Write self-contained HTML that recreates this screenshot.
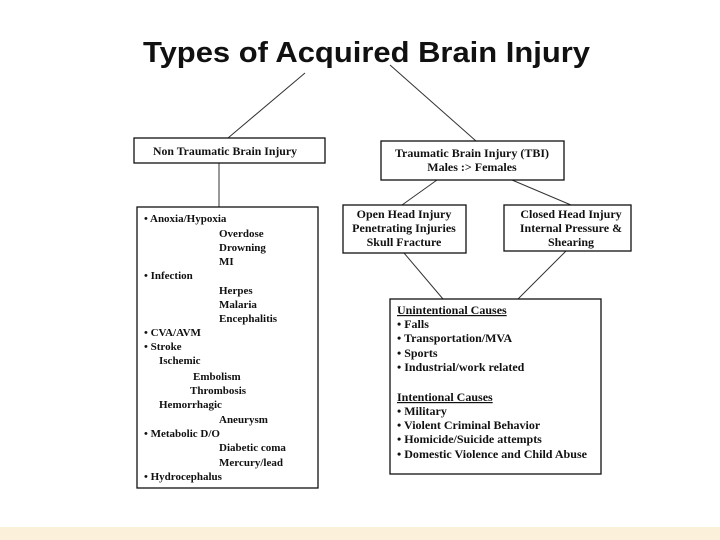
<!DOCTYPE html>
<html><head><style>
body{margin:0;background:#fff}
svg{display:block}
.t{font-family:"Liberation Serif",serif;font-weight:bold;font-size:11px;fill:#111}
.r{font-size:12px}
</style></head><body>
<svg width="720" height="540" xmlns="http://www.w3.org/2000/svg">
<rect x="0" y="527" width="720" height="13" fill="#fbf0da"/>
<text x="143" y="62" font-family="Liberation Sans,sans-serif" font-weight="bold" font-size="29" textLength="447" lengthAdjust="spacingAndGlyphs" fill="#111">Types of Acquired Brain Injury</text>
<g stroke="#333" stroke-width="1" fill="none">
<line x1="305" y1="73" x2="228" y2="138"/>
<line x1="390" y1="65" x2="476" y2="141"/>
<line x1="219" y1="163" x2="219" y2="207"/>
<line x1="437" y1="180" x2="402" y2="205"/>
<line x1="512" y1="180" x2="571" y2="205"/>
<line x1="404" y1="253" x2="443" y2="299"/>
<line x1="566" y1="251" x2="518" y2="299"/>
</g>
<g stroke="#111" stroke-width="1.3" fill="#fff">
<rect x="134" y="138" width="191" height="25"/>
<rect x="137" y="207" width="181" height="281"/>
<rect x="381" y="141" width="183" height="39"/>
<rect x="343" y="205" width="123" height="48"/>
<rect x="504" y="205" width="127" height="46"/>
<rect x="390" y="299" width="211" height="175"/>
</g>
<g class="t">
<text x="153" y="155" class="r" textLength="144" lengthAdjust="spacingAndGlyphs">Non Traumatic  Brain  Injury</text>
<text x="472" y="157" text-anchor="middle" class="r">Traumatic  Brain  Injury  (TBI)</text>
<text x="472" y="171" text-anchor="middle" class="r">Males :&gt; Females</text>
<text x="404" y="218" text-anchor="middle" class="r">Open Head Injury</text>
<text x="404" y="232" text-anchor="middle" class="r">Penetrating Injuries</text>
<text x="404" y="246" text-anchor="middle" class="r">Skull Fracture</text>
<text x="571" y="218" text-anchor="middle" class="r">Closed Head Injury</text>
<text x="571" y="232" text-anchor="middle" class="r">Internal Pressure &amp;</text>
<text x="571" y="246" text-anchor="middle" class="r">Shearing</text>

<text x="144" y="222">• Anoxia/Hypoxia</text>
<text x="219" y="237">Overdose</text>
<text x="219" y="251">Drowning</text>
<text x="219" y="265">MI</text>
<text x="144" y="279">• Infection</text>
<text x="219" y="294">Herpes</text>
<text x="219" y="308">Malaria</text>
<text x="219" y="322">Encephalitis</text>
<text x="144" y="336">• CVA/AVM</text>
<text x="144" y="350">• Stroke</text>
<text x="159" y="364">Ischemic</text>
<text x="193" y="380">Embolism</text>
<text x="190" y="394">Thrombosis</text>
<text x="159" y="408">Hemorrhagic</text>
<text x="219" y="423">Aneurysm</text>
<text x="144" y="437">• Metabolic D/O</text>
<text x="219" y="451">Diabetic coma</text>
<text x="219" y="466">Mercury/lead</text>
<text x="144" y="480">• Hydrocephalus</text>

<g class="r">
<text x="397" y="314" text-decoration="underline">Unintentional   Causes</text>
<text x="397" y="328">• Falls</text>
<text x="397" y="342">• Transportation/MVA</text>
<text x="397" y="357">• Sports</text>
<text x="397" y="371">• Industrial/work  related</text>
<text x="397" y="401" text-decoration="underline">Intentional  Causes</text>
<text x="397" y="415">• Military</text>
<text x="397" y="429">• Violent Criminal  Behavior</text>
<text x="397" y="443">• Homicide/Suicide  attempts</text>
<text x="397" y="458" textLength="190" lengthAdjust="spacingAndGlyphs">• Domestic Violence and Child Abuse</text>
</g>
</g>
</svg>
</body></html>
